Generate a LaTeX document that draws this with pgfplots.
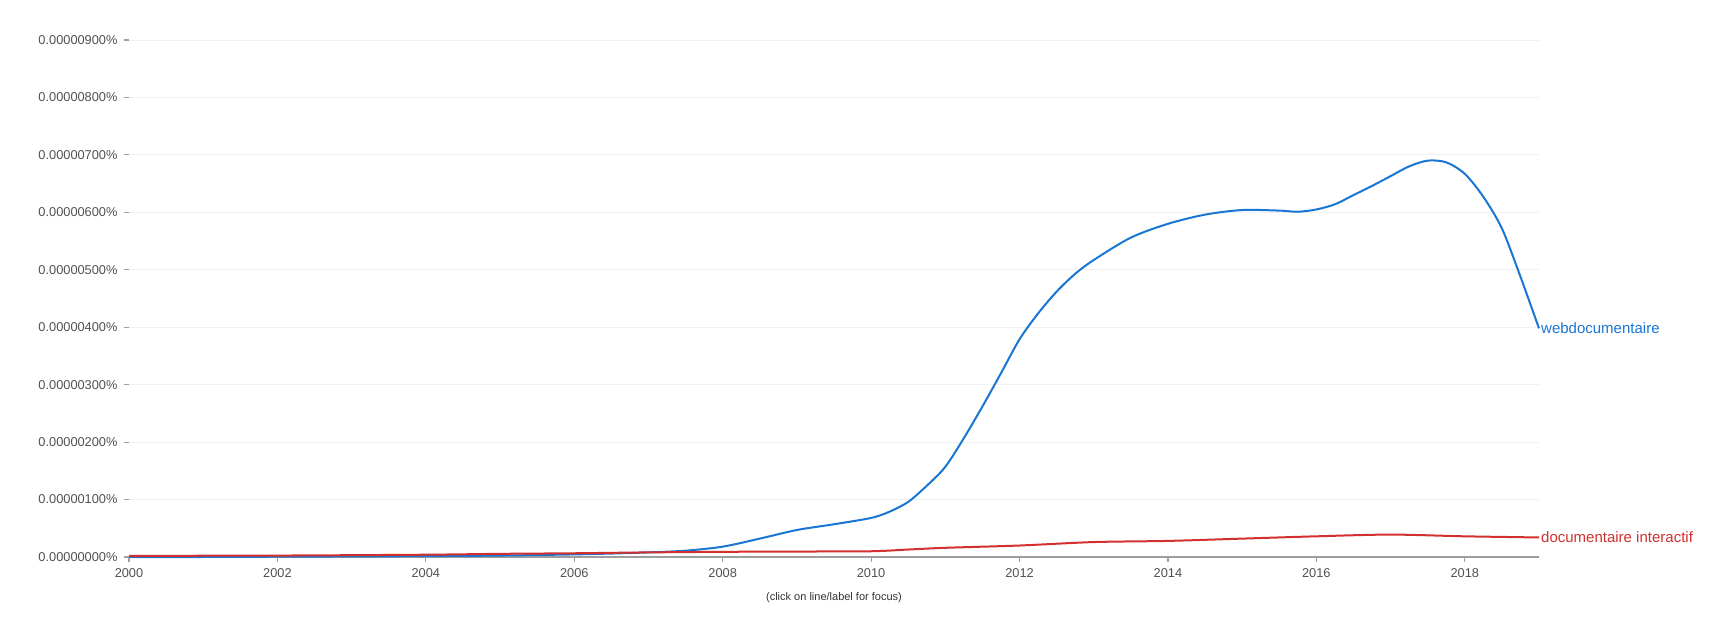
\documentclass[border=0pt]{standalone}
\usepackage{fontspec}
\setmainfont{Liberation Sans}
\usepackage{pgfplots}
\pgfplotsset{compat=1.18}
\definecolor{blueline}{HTML}{1976D2}
\definecolor{redline}{HTML}{D32F2F}
\definecolor{ticktext}{HTML}{505050}
\definecolor{gridc}{HTML}{F0F0F0}
\definecolor{axisc}{HTML}{9E9E9E}
\begin{document}
\begin{tikzpicture}
\useasboundingbox (0,0) rectangle (1734pt,642pt);
\begin{axis}[
  at={(129pt,85pt)}, anchor=south west,
  scale only axis, width=1410pt, height=517pt,
  xmin=2000, xmax=2019, ymin=0, ymax=9,
  axis x line*=bottom, axis y line*=left,
  y axis line style={draw=none},
  x axis line style={draw=axisc, line width=1.2pt},
  tick align=outside, major tick length=5pt,
  tick style={draw=axisc, line width=1.2pt},
  ymajorgrids, grid style={draw=gridc, line width=1pt},
  xtick={2000,2002,...,2018},
  ytick={0,1,...,9},
  yticklabels={0.00000000\%,0.00000100\%,0.00000200\%,0.00000300\%,0.00000400\%,0.00000500\%,0.00000600\%,0.00000700\%,0.00000800\%,0.00000900\%},
  /pgf/number format/assume math mode=true,
  x tick label style={/pgf/number format/1000 sep={}, yshift=-3pt},
  y tick label style={xshift=-3pt},
  tick label style={font=\fontsize{12.8}{14}\selectfont, text=ticktext},
  clip=false,
]
\addplot[blueline, line width=2pt, smooth] coordinates {
(2000,0.00) (2001,0.00) (2002,0.005) (2003,0.01) (2004,0.015) (2005,0.025) (2006,0.045) (2006.5,0.06)
(2007,0.08) (2007.5,0.11) (2008,0.18) (2008.5,0.32) (2009,0.47) (2009.5,0.57) (2010,0.68)
(2010.25,0.79) (2010.5,0.96) (2010.75,1.24) (2011,1.57) (2011.25,2.07) (2011.5,2.62) (2011.75,3.2)
(2012,3.79) (2012.25,4.24) (2012.5,4.62) (2012.75,4.93) (2013,5.17) (2013.5,5.56) (2014,5.80)
(2014.5,5.96) (2015,6.04) (2015.5,6.03) (2015.75,6.01) (2016,6.05) (2016.25,6.14) (2016.5,6.30)
(2016.75,6.46) (2017,6.63) (2017.25,6.80) (2017.5,6.90) (2017.75,6.87) (2018,6.67) (2018.25,6.27)
(2018.5,5.72) (2018.75,4.88) (2019,3.98)
};
\addplot[redline, line width=2pt, smooth] coordinates {
(2000,0.02) (2002,0.025) (2004,0.04) (2005,0.055) (2006,0.065) (2007,0.08) (2008,0.09) (2009,0.095)
(2010,0.10) (2010.5,0.13) (2011,0.16) (2012,0.20) (2013,0.26) (2014,0.28) (2015,0.32) (2016,0.36)
(2017,0.39) (2018,0.36) (2019,0.34)
};
\node[anchor=west, text=blueline, font=\fontsize{15}{18}\selectfont, inner sep=2pt] at (axis cs:2019,3.98) {webdocumentaire};
\node[anchor=west, text=redline, font=\fontsize{15}{18}\selectfont, inner sep=2pt] at (axis cs:2019,0.34) {documentaire interactif};
\node[anchor=center, text=black!80, font=\fontsize{11}{13}\selectfont] at ([yshift=-41pt]axis description cs:0.5,0) {(click on line/label for focus)};
\end{axis}
\end{tikzpicture}
\end{document}
